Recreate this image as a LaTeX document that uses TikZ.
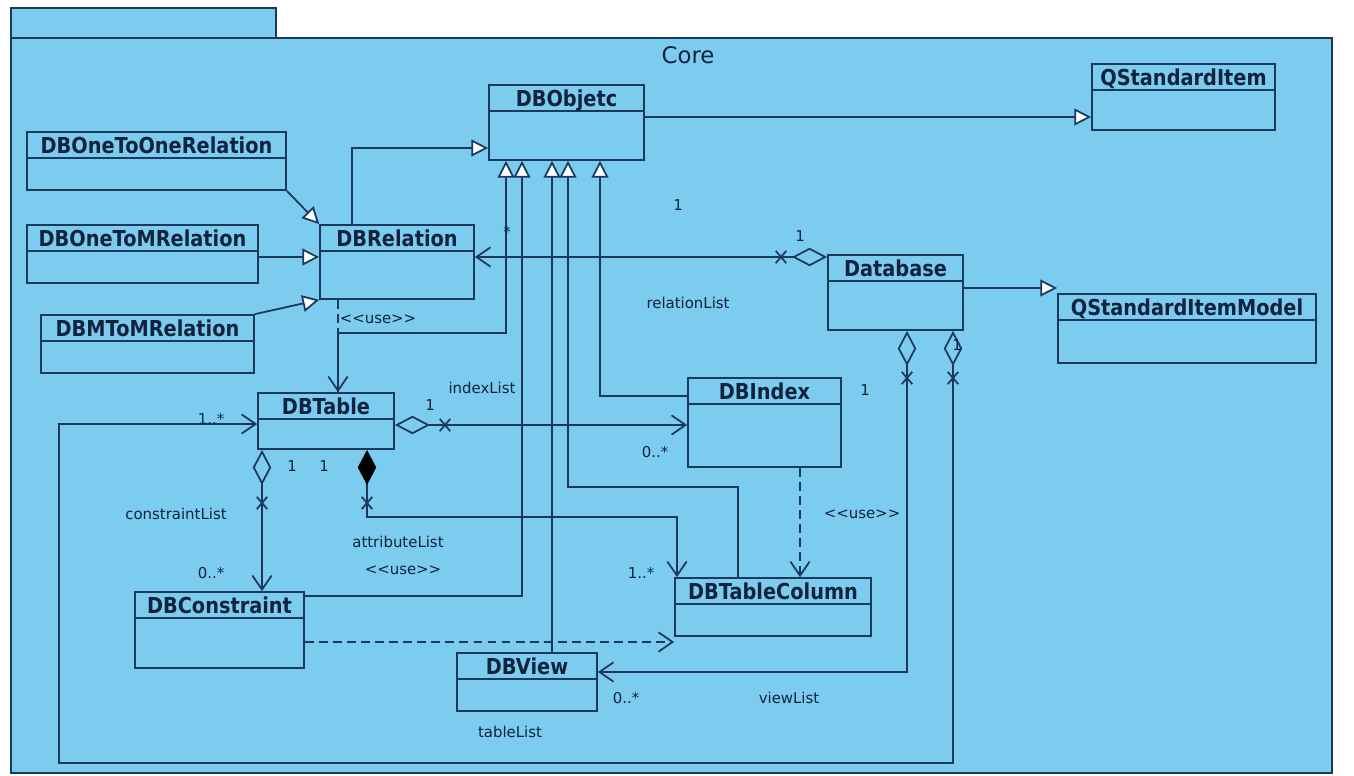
\documentclass[tikz,border=0pt]{standalone}
\usepackage{fontspec}
\setmainfont{DejaVu Sans}
\newfontfamily\classfont[FakeStretch=0.88]{DejaVu Sans}
\usetikzlibrary{arrows.meta, fit}
\definecolor{pkgfill}{RGB}{124,204,240}
\definecolor{umlline}{RGB}{28,56,90}
\definecolor{umltext}{RGB}{16,34,62}
\tikzset{
  classbox/.style={draw=umlline, line width=1pt, inner sep=0pt,
    path picture={\draw[umlline, line width=1pt]
      ([yshift=-0.52cm]path picture bounding box.north west) --
      ([yshift=-0.52cm]path picture bounding box.north east);}},
  classname/.style={font=\classfont\bfseries\fontsize{12.5}{14}\selectfont, text=umltext,
    anchor=north, inner sep=0pt, text height=9pt, text depth=2pt, yshift=-3.8pt},
  gen/.style={draw=umlline, line width=1pt,
    -{Triangle[length=9.5pt, width=9.5pt, fill=white]}},
  assoc/.style={draw=umlline, line width=1pt,
    {Diamond[open, length=20pt, width=10.5pt]}-{Straight Barb[length=8pt, width=11pt]}},
  compo/.style={draw=umlline, line width=1pt,
    {Diamond[length=20pt, width=10.5pt, color=black]}-{Straight Barb[length=8pt, width=11pt]}},
  dep/.style={draw=umlline, line width=1pt, dash pattern=on 5pt off 3pt,
    -{Straight Barb[length=8pt, width=11pt]}},
  lbl/.style={font=\fontsize{8.5}{10}\selectfont, text=umltext, inner sep=1pt},
  xmark/.pic={\draw[umlline, line width=1pt] (-3pt,-3.5pt) -- (3pt,3.5pt) (-3pt,3.5pt) -- (3pt,-3.5pt);}
}

\begin{document}
\begin{tikzpicture}[x=0.02cm, y=-0.02cm]
    \useasboundingbox (0,0) rectangle (1354,776);

    % Package
    \draw[umlline, fill=pkgfill, line width=1pt] (11,8) rectangle (276,38);
    \draw[umlline, fill=pkgfill, line width=1pt] (11,38) rectangle (1332,773);
    \node[font=\fontsize{13}{15}\selectfont, text=umltext] (core) at (688,55) {Core};

    % Classes
    \node[classbox, fit={(489,85) (644,160)}, label={[classname]north:DBObjetc}] (dbobjetc) {};
    \node[classbox, fit={(1092,64) (1275,130)}, label={[classname]north:QStandardItem}] (qitem) {};
    \node[classbox, fit={(27,132) (286,190)}, label={[classname]north:DBOneToOneRelation}] (onetoone) {};
    \node[classbox, fit={(27,225) (258,283)}, label={[classname]north:DBOneToMRelation}] (onetom) {};
    \node[classbox, fit={(320,225) (474,299)}, label={[classname]north:DBRelation}] (relation) {};
    \node[classbox, fit={(41,315) (254,373)}, label={[classname]north:DBMToMRelation}] (mtom) {};
    \node[classbox, fit={(828,255) (963,330)}, label={[classname]north:Database}] (database) {};
    \node[classbox, fit={(1058,294) (1316,363)}, label={[classname]north:QStandardItemModel}] (qmodel) {};
    \node[classbox, fit={(258,393) (394,449)}, label={[classname]north:DBTable}] (table) {};
    \node[classbox, fit={(688,378) (841,467)}, label={[classname]north:DBIndex}] (index) {};
    \node[classbox, fit={(135,592) (304,668)}, label={[classname]north:DBConstraint}] (constraint) {};
    \node[classbox, fit={(675,578) (871,636)}, label={[classname]north:DBTableColumn}] (column) {};
    \node[classbox, fit={(457,653) (597,711)}, label={[classname]north:DBView}] (view) {};

    % Generalizations
    \draw[gen] (dbobjetc.east |- 0,117) -- (qitem.west |- 0,117);
    \draw[gen] (relation.north -| 352,0) |- (dbobjetc.west |- 0,148);
    \draw[gen] (onetoone.south east) -- (relation.north west);
    \draw[gen] (onetom.east |- 0,257) -- (relation.west |- 0,257);
    \draw[gen] (mtom.north east) -- (relation.south west);
    \draw[gen] (table.north -| 338,0) -- (338,333) -| (dbobjetc.south -| 506,0);
    \draw[gen] (constraint.east |- 0,596) -| (dbobjetc.south -| 522,0);
    \draw[gen] (view.north -| 552,0) -- (dbobjetc.south -| 552,0);
    \draw[gen] (column.north -| 738,0) -- (738,487) -| (dbobjetc.south -| 568,0);
    \draw[gen] (index.west |- 0,396) -| (dbobjetc.south -| 600,0);
    \draw[gen] (database.east |- 0,288) -- (qmodel.west |- 0,288);

    % Dependencies
    \draw[dep] (relation.south -| 338,0) -- (table.north -| 338,0);
    \draw[dep] (constraint.east |- 0,642) -- (column.west |- 0,642);
    \draw[dep] (index.south -| 800,0) -- (column.north -| 800,0);

    % Associations
    \draw[assoc] (database.west |- 0,257) -- (relation.east |- 0,257);
    \draw[assoc] (table.east |- 0,425) -- (index.west |- 0,425);
    \draw[assoc] (table.south -| 262,0) -- (constraint.north -| 262,0);
    \draw[compo] (table.south -| 367,0) |- (677,517) -- (column.north -| 677,0);
    \draw[assoc] (database.south -| 907,0) |- (view.east |- 0,672);
    \draw[assoc] (database.south -| 953,0) |- (59,763) |- (table.west |- 0,424);
    \pic at (781,257) {xmark};
    \pic at (445,425) {xmark};
    \pic at (262,503) {xmark};
    \pic at (367,503) {xmark};
    \pic at (907,378) {xmark};
    \pic at (953,378) {xmark};

    % Labels
    \node[lbl] (m1) at (678,205) {1};
    \node[lbl] (m2) at (800,236) {1};
    \node[lbl] (m3) at (507,232) {*};
    \node[lbl] (relationlist) at (688,303) {relationList};
    \node[lbl] (use1) at (378,319) {<{}<use>{}>};
    \node[lbl] (indexlist) at (482,388) {indexList};
    \node[lbl] (m4) at (430,405) {1};
    \node[lbl] (m5) at (211,419) {1..*};
    \node[lbl] (m6) at (655,452) {0..*};
    \node[lbl] (m7) at (865,390) {1};
    \node[lbl] (m8) at (957,345) {1};
    \node[lbl] (m9) at (292,466) {1};
    \node[lbl] (m10) at (324,466) {1};
    \node[lbl] (constraintlist) at (176,514) {constraintList};
    \node[lbl] (attributelist) at (398,542) {attributeList};
    \node[lbl] (use2) at (403,570) {<{}<use>{}>};
    \node[lbl] (m11) at (211,573) {0..*};
    \node[lbl] (m12) at (641,573) {1..*};
    \node[lbl] (use3) at (862,514) {<{}<use>{}>};
    \node[lbl] (m13) at (626,698) {0..*};
    \node[lbl] (viewlist) at (789,698) {viewList};
    \node[lbl] (tablelist) at (510,732) {tableList};
\end{tikzpicture}
\end{document}
